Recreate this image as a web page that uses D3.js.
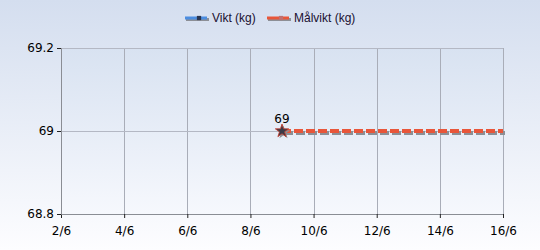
<!DOCTYPE html>
<html>
<head>
<meta charset="utf-8">
<script src="https://d3js.org/d3.v7.min.js"></script>
<style>
  body { margin: 0; }
  svg { display: block; font-family: "DejaVu Sans", Verdana, sans-serif; }
</style>
</head>
<body>
<div id="chart"></div>
<script>
// data
var viktDates = ["2024-06-09"];
var viktValues = [69];
var malDates = ["2024-06-09", "2024-06-16"];
var malValues = [69, 69];
var yTicks = [68.8, 69, 69.2];
var seriesNames = ["Vikt (kg)", "Målvikt (kg)"];

var W = 540, H = 250;
var margin = {top: 48, right: 37, bottom: 36, left: 61};
var width = W - margin.left - margin.right,
    height = H - margin.top - margin.bottom;

var parse = d3.timeParse("%Y-%m-%d");

var svg = d3.select("#chart").append("svg")
  .attr("width", W).attr("height", H);

var defs = svg.append("defs");
var bg = defs.append("linearGradient").attr("id", "bg").attr("x1", 0).attr("y1", 0).attr("x2", 0).attr("y2", 1);
bg.append("stop").attr("offset", "0%").attr("stop-color", "#d4deef");
bg.append("stop").attr("offset", "100%").attr("stop-color", "#fdfdff");
var pg = defs.append("linearGradient").attr("id", "pg").attr("x1", 0).attr("y1", 0).attr("x2", 0).attr("y2", 1);
pg.append("stop").attr("offset", "0%").attr("stop-color", "#d8e2f1");
pg.append("stop").attr("offset", "100%").attr("stop-color", "#f6f8fd");

svg.append("rect").attr("width", W).attr("height", H).attr("fill", "url(#bg)");

var g = svg.append("g").attr("transform", "translate(" + margin.left + "," + margin.top + ")");

var x = d3.scaleTime()
  .domain([parse("2024-06-02"), parse("2024-06-16")])
  .range([0, width]);
var y = d3.scaleLinear()
  .domain([68.8, 69.2])
  .range([height, 0]);

g.append("rect").attr("width", width).attr("height", height).attr("fill", "url(#pg)");

var xTicks = d3.timeDay.range(parse("2024-06-02"), parse("2024-06-17"), 2);

// grid
g.append("g").selectAll("line").data(xTicks).enter().append("line")
  .attr("x1", function(d) { return Math.round(x(d)) + 0.5; })
  .attr("x2", function(d) { return Math.round(x(d)) + 0.5; })
  .attr("y1", 0).attr("y2", height)
  .attr("stroke", "#a9adb8");
g.append("g").selectAll("line").data(yTicks).enter().append("line")
  .attr("y1", function(d) { return Math.round(y(d)) + 0.5; })
  .attr("y2", function(d) { return Math.round(y(d)) + 0.5; })
  .attr("x1", 0).attr("x2", width)
  .attr("stroke", "#b4b8c4");

// axes
var xAxis = g.append("g")
  .attr("transform", "translate(0," + height + ")")
  .call(d3.axisBottom(x).tickValues(xTicks).tickFormat(d3.timeFormat("%-d/%-m")).tickSize(4).tickPadding(8));
var yAxis = g.append("g")
  .call(d3.axisLeft(y).tickValues(yTicks).tickFormat(function(d) { return d === 69 ? "69" : d3.format(".1f")(d); }).tickSize(4).tickPadding(3));
[xAxis, yAxis].forEach(function(a) {
  a.select(".domain").attr("stroke", "#8a8d94");
  a.selectAll(".tick line").attr("stroke", "#222");
  a.selectAll("text").attr("fill", "#000").style("font-size", "12px").style("font-family", "Tahoma, 'DejaVu Sans', sans-serif");
});

// target line (dashed, with shadow)
var mal = malDates.map(function(d, i) { return {date: parse(d), value: malValues[i]}; });
var line = d3.line().x(function(d) { return x(d.date); }).y(function(d) { return y(d.value); });
g.append("path").datum(mal).attr("d", line)
  .attr("transform", "translate(2,2)")
  .attr("fill", "none").attr("stroke", "#8c8f96").attr("stroke-width", 4).attr("stroke-dasharray", "9,3");
g.append("path").datum(mal).attr("d", line)
  .attr("fill", "none").attr("stroke", "#e8563a").attr("stroke-width", 4).attr("stroke-dasharray", "9,3");

// weight points
var vikt = viktDates.map(function(d, i) { return {date: parse(d), value: viktValues[i]}; });
var star = d3.symbol().type(d3.symbolStar).size(55);
g.append("g").selectAll("path").data(vikt).enter().append("path")
  .attr("d", star)
  .attr("transform", function(d) { return "translate(" + (x(d.date) + 1.5) + "," + (y(d.value) + 1.5) + ")"; })
  .attr("fill", "#8c8f96");
g.append("g").selectAll("path").data(vikt).enter().append("path")
  .attr("d", star)
  .attr("transform", function(d) { return "translate(" + x(d.date) + "," + y(d.value) + ")"; })
  .attr("fill", "#3a3a48").attr("stroke", "#c43a2a").attr("stroke-width", 0.8);
g.append("g").selectAll("text").data(vikt).enter().append("text")
  .attr("x", function(d) { return x(d.date); })
  .attr("y", function(d) { return y(d.value) - 8; })
  .attr("text-anchor", "middle")
  .style("font-size", "12px")
  .text(function(d) { return d.value; });

// legend
var legend = svg.append("g").attr("transform", "translate(185,18)");
var items = [
  {name: seriesNames[0], color: "#4b8de0", x: 0},
  {name: seriesNames[1], color: "#e8563a", x: 82}
];
var li = legend.selectAll("g").data(items).enter().append("g")
  .attr("transform", function(d) { return "translate(" + d.x + ",0)"; });
li.append("line").attr("x1", 1).attr("x2", 24).attr("y1", 1.5).attr("y2", 1.5)
  .attr("stroke", "#8c8f96").attr("stroke-width", 3);
li.append("line").attr("x1", 0).attr("x2", 22).attr("y1", 0).attr("y2", 0)
  .attr("stroke", function(d) { return d.color; }).attr("stroke-width", 3);
li.append("path").attr("d", d3.symbol().type(d3.symbolSquare).size(18))
  .attr("transform", "translate(14,0)")
  .attr("fill", function(d, i) { return i === 0 ? "#2a3550" : "#c07070"; });
li.append("text").attr("x", 27).attr("y", 4)
  .style("font-size", "12px").style("font-family", "'Liberation Sans', Arial, sans-serif")
  .attr("fill", "#1a1030")
  .text(function(d) { return d.name; });
</script>
</body>
</html>
